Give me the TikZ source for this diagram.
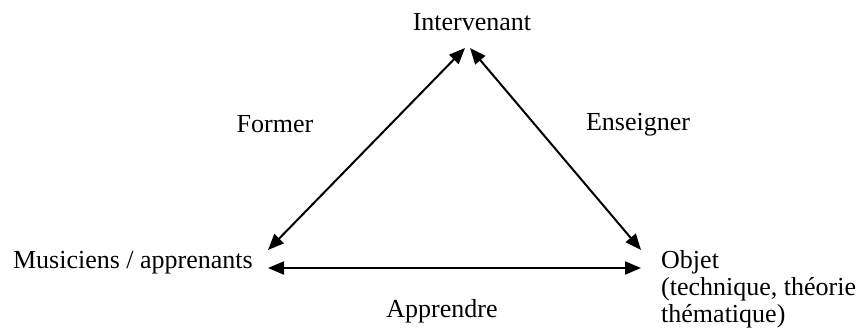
\documentclass[tikz,border=0pt]{standalone}
\usepackage{fontspec}
\setmainfont{Liberation Serif}
\usetikzlibrary{arrows.meta}
\begin{document}
\begin{tikzpicture}[x=1pt,y=-1pt,
  txt/.style={inner sep=0pt,font=\fontsize{26}{27}\selectfont},
  dbl/.style={line width=2pt,{Triangle[length=16pt,width=13pt]}-{Triangle[length=16pt,width=13pt]}}]

\useasboundingbox (0,0) rectangle (856,332) ;

\node[txt,anchor=base] (int) at (472,30) {Intervenant} ;
\node[txt,anchor=base east] (mus) at (253,268) {Musiciens / apprenants} ;
\node[txt,anchor=north west,align=left] (obj) at (661,250) {Objet\\(technique, théorie\\thématique)} ;

\node[txt,anchor=base] (form) at (275,132) {Former} ;
\node[txt,anchor=base] (ens) at (638,130) {Enseigner} ;
\node[txt,anchor=base] (app) at (442,317) {Apprendre} ;

\coordinate (int_l) at (465,48) ;
\coordinate (int_r) at (470,48) ;
\coordinate (mus_d) at (268,250) ;
\coordinate (mus_h) at (268,268) ;
\coordinate (obj_d) at (641,250) ;
\coordinate (obj_h) at (641,268) ;

\draw[dbl] (mus_d) -- (int_l) ;
\draw[dbl] (int_r) -- (obj_d) ;
\draw[dbl] (mus_h) -- (obj_h) ;

\end{tikzpicture}
\end{document}
